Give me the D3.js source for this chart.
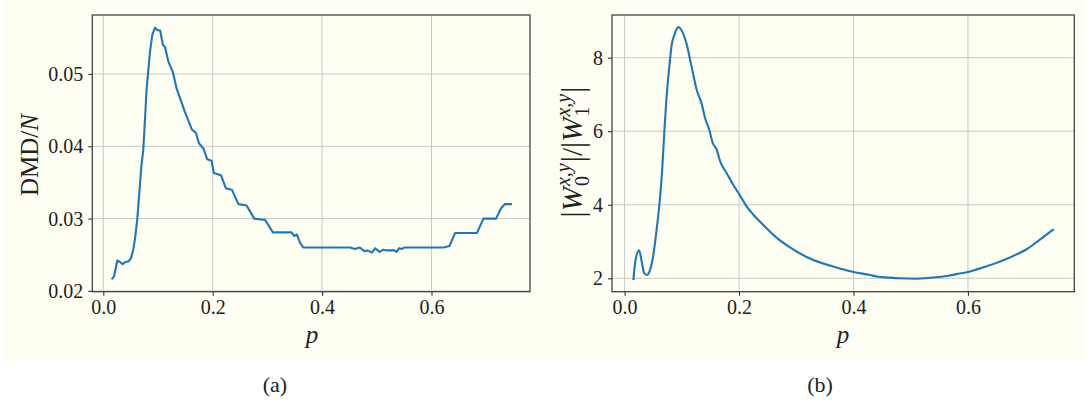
<!DOCTYPE html>
<html><head><meta charset="utf-8">
<script src="https://cdn.jsdelivr.net/npm/d3@7"></script>
<style>
body{margin:0;background:#fff;}
svg{display:block;}
text{font-family:"Liberation Serif","Times New Roman",serif;fill:#222;}
</style></head>
<body>
<svg id="fig" width="1087" height="403"></svg>
<script>
// ---- data ----
const xTicks = [0.0, 0.2, 0.4, 0.6];
const xTickLabels = ["0.0", "0.2", "0.4", "0.6"];
const leftYTicks = [0.02, 0.03, 0.04, 0.05];
const leftYTickLabels = ["0.02", "0.03", "0.04", "0.05"];
const rightYTicks = [2, 4, 6, 8];
const rightYTickLabels = ["2", "4", "6", "8"];

const leftP = [0.0153,0.0196,0.0256,0.0305,0.0355,0.0402,0.0464,0.0506,0.0548,0.0585,0.0622,0.0658,0.0695,0.0731,0.0793,0.0854,0.0896,0.0945,0.0987,0.104,0.109,0.113,0.119,0.127,0.134,0.149,0.162,0.169,0.175,0.183,0.190,0.198,0.202,0.215,0.224,0.235,0.247,0.262,0.276,0.296,0.310,0.344,0.349,0.354,0.360,0.366,0.451,0.460,0.469,0.477,0.483,0.491,0.497,0.505,0.512,0.518,0.533,0.536,0.541,0.546,0.550,0.622,0.633,0.643,0.683,0.695,0.718,0.727,0.734,0.747];
const leftDMD = [0.0216,0.0220,0.0242,0.0240,0.0237,0.0240,0.0241,0.0245,0.0257,0.0275,0.0300,0.0335,0.0372,0.0395,0.0480,0.0531,0.0554,0.0564,0.0561,0.0560,0.0540,0.0537,0.0517,0.0503,0.0480,0.0448,0.0423,0.0419,0.0404,0.0397,0.0382,0.0380,0.0363,0.0360,0.0342,0.0340,0.0320,0.0318,0.0300,0.0298,0.0281,0.0281,0.0276,0.0278,0.0266,0.0260,0.0260,0.0258,0.0260,0.0255,0.0256,0.0253,0.0259,0.0254,0.0257,0.0256,0.0256,0.0254,0.0259,0.0258,0.0260,0.0260,0.0262,0.0280,0.0280,0.0300,0.0300,0.0314,0.0320,0.0320];

const rightP = [0.0154,0.0183,0.0253,0.030,0.034,0.0388,0.0445,0.0503,0.0562,0.0608,0.0655,0.0695,0.0737,0.0777,0.0824,0.087,0.094,0.104,0.1086,0.1174,0.126,0.135,0.1406,0.148,0.154,0.161,0.167,0.1785,0.190,0.2017,0.2134,0.225,0.2367,0.248,0.266,0.289,0.318,0.347,0.376,0.400,0.429,0.4405,0.462,0.481,0.510,0.530,0.545,0.566,0.586,0.600,0.617,0.633,0.650,0.668,0.685,0.7025,0.717,0.7315,0.750];
const rightRatio = [1.95,2.41,2.76,2.45,2.15,2.09,2.23,2.64,3.36,4.0,4.91,6.0,7.0,7.68,8.36,8.62,8.83,8.59,8.36,7.73,7.13,6.73,6.36,6.04,5.68,5.50,5.18,4.86,4.54,4.25,3.95,3.73,3.54,3.36,3.10,2.84,2.58,2.40,2.27,2.17,2.09,2.05,2.02,2.00,1.99,2.01,2.03,2.07,2.13,2.17,2.25,2.33,2.42,2.53,2.65,2.79,2.95,3.12,3.34];

const svg = d3.select("#fig");
// cream figure background
svg.append("rect").attr("x",5).attr("y",0).attr("width",1080).attr("height",360).attr("fill","#fefef2");

const SERIF = '"Liberation Serif","Times New Roman",serif';

function panel(cfg){
  const x = d3.scaleLinear().domain(cfg.xDomain).range([cfg.left, cfg.right]);
  const y = d3.scaleLinear().domain(cfg.yDomain).range([cfg.bottom, cfg.top]);
  const g = svg.append("g");
  g.append("rect").attr("x",cfg.left).attr("y",cfg.top).attr("width",cfg.right-cfg.left).attr("height",cfg.bottom-cfg.top).attr("fill","#fefef2");
  // grid
  g.selectAll(".gx").data(xTicks).enter().append("line")
    .attr("x1",d=>x(d)).attr("x2",d=>x(d)).attr("y1",cfg.top).attr("y2",cfg.bottom)
    .attr("stroke","#c9c9c6").attr("stroke-width",1);
  g.selectAll(".gy").data(cfg.yTicks).enter().append("line")
    .attr("y1",d=>y(d)).attr("y2",d=>y(d)).attr("x1",cfg.left).attr("x2",cfg.right)
    .attr("stroke","#c9c9c6").attr("stroke-width",1);
  // line
  const line = d3.line().x((d,i)=>x(cfg.xs[i])).y(d=>y(d)).curve(cfg.curve || d3.curveLinear);
  g.append("path").datum(cfg.ys).attr("d",line).attr("fill","none")
    .attr("stroke","#1f77b4").attr("stroke-width",2.1).attr("stroke-linejoin","round");
  // axes
  const ax = d3.axisBottom(x).tickValues(xTicks).tickFormat((d,i)=>xTickLabels[i]).tickSize(4).tickPadding(4);
  const ay = d3.axisLeft(y).tickValues(cfg.yTicks).tickFormat((d,i)=>cfg.yLabels[i]).tickSize(4).tickPadding(5);
  const gx = g.append("g").attr("transform",`translate(0,${cfg.bottom})`).call(ax);
  const gy = g.append("g").attr("transform",`translate(${cfg.left},0)`).call(ay);
  [gx,gy].forEach(a=>{
    a.attr("font-family",SERIF).attr("font-size",20);
    a.select(".domain").remove();
    a.selectAll("line").attr("stroke","#333").attr("stroke-width",1.1);
    a.selectAll("text").attr("font-family",SERIF).attr("font-size",20).attr("fill","#222");
  });
  // frame
  g.append("rect").attr("x",cfg.left).attr("y",cfg.top).attr("width",cfg.right-cfg.left).attr("height",cfg.bottom-cfg.top)
    .attr("fill","none").attr("stroke","#444").attr("stroke-width",1.3);
  // x label
  g.append("text").attr("x",cfg.xLabelX).attr("y",343).attr("text-anchor","middle")
    .style("font-size","25px").style("font-style","italic").text("p");
  return {x,y,g};
}

panel({left:92.3,right:530,top:15,bottom:291.7,xDomain:[-0.0201,0.7801],yDomain:[0.01989,0.05816],
  yTicks:leftYTicks,yLabels:leftYTickLabels,xs:leftP,ys:leftDMD,xLabelX:312});
panel({left:612,right:1074.3,top:15,bottom:291.7,xDomain:[-0.0220,0.7858],yDomain:[1.636,9.161],
  yTicks:rightYTicks,yLabels:rightYTickLabels,xs:rightP,ys:rightRatio,xLabelX:843,curve:d3.curveMonotoneX});

// left y label
const ly = svg.append("text").attr("transform","translate(38,155) rotate(-90)").attr("text-anchor","middle").style("font-size","25px");
ly.append("tspan").text("DMD/");
ly.append("tspan").style("font-style","italic").text("N");

// right y label built from pieces
const rg = svg.append("g");
let cx = 0;
function piece(txt, opts){
  const t = rg.append("text").attr("x",cx).attr("y",opts.dy||0).style("font-size",(opts.size||29)+"px").text(txt);
  if(opts.italic) t.style("font-style","italic");
  return t;
}
function adv(t){ cx += t.node().getComputedTextLength(); }
function W(sub){
  adv(piece("|",{size:31,dy:1}));
  adv(piece("W",{italic:true}));
  const start = cx + 1;
  const sup = piece("x,y",{italic:true,size:20,dy:-12}).attr("x",start);
  const s = piece(sub,{size:20,dy:7}).attr("x",start);
  cx = start + Math.max(sup.node().getComputedTextLength(), s.node().getComputedTextLength()) + 1;
  adv(piece("|",{size:31,dy:1}));
}
W("0");
adv(piece("/",{}));
W("1");
rg.attr("transform",`translate(582,${152}) rotate(-90) translate(${-cx/2},0)`);

// captions
svg.append("text").attr("x",275).attr("y",392).attr("text-anchor","middle").style("font-size","22px").text("(a)");
svg.append("text").attr("x",820).attr("y",392).attr("text-anchor","middle").style("font-size","22px").text("(b)");
</script>
</body></html>
